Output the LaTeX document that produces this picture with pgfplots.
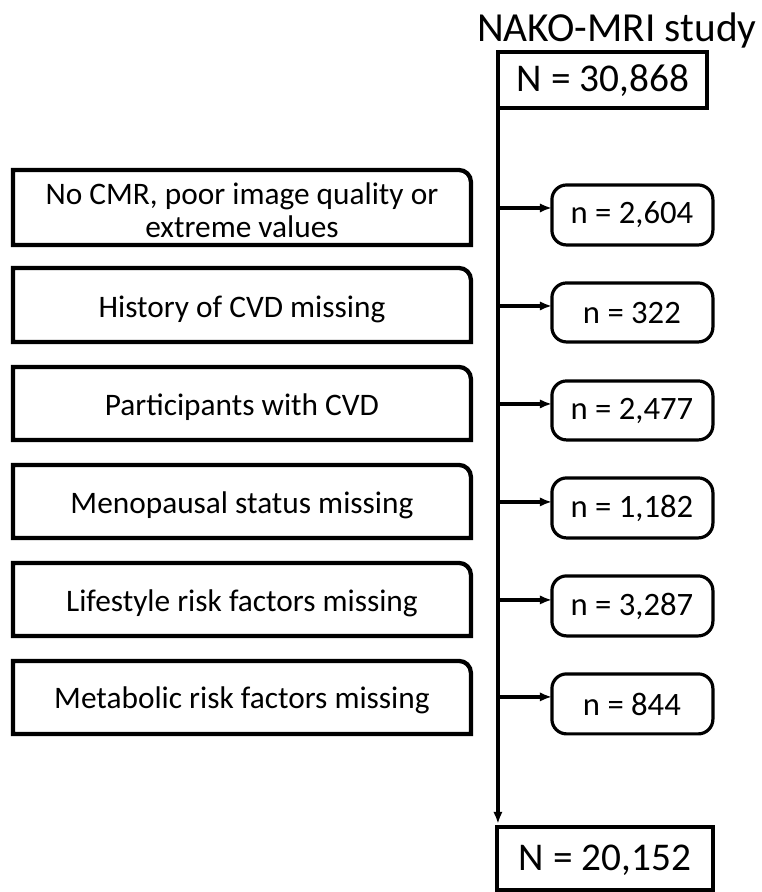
\documentclass[border=0pt]{standalone}
\usepackage{pgfplots}
\pgfplotsset{compat=1.18}
\usepackage{fontspec}
\setmainfont{Carlito}
\usetikzlibrary{arrows.meta}
\newcommand\leftbox[2]{\draw[line width=3.2pt,line join=miter] (13,#2) -- (13,#1) -- (459,#1) arc[start angle=90,end angle=0,radius=9pt] -- (471,#2) -- cycle;}
\newcommand\rightbox[2]{\draw[line width=2.4pt,rounded corners=11pt] (552,#1) rectangle (713,#2);}
\tikzset{arr/.style={line width=2.4pt,-{Latex[length=9pt,width=7pt]}}}
\begin{document}
\begin{tikzpicture}
\begin{axis}[
 width=570pt, height=669pt, scale only axis, hide axis,
 xmin=0, xmax=760, ymin=0, ymax=892, y dir=reverse, clip=false,
]
\addplot[draw=none] coordinates {(0,0) (760,892)};
% title and top box
\node[font=\fontsize{31}{36}\selectfont, anchor=center] at (617,30) {NAKO-MRI study};
\draw[line width=3.2pt] (498,52) rectangle (707,108);
\node[font=\fontsize{29.5}{34}\selectfont] at (603,81) {N = 30,868};
% main vertical line
\draw[arr] (498,106) -- (498,824);
% bottom box
\draw[line width=3.2pt] (497,827) rectangle (713,890);
\node[font=\fontsize{29.5}{34}\selectfont] at (605,860) {N = 20,152};
% exclusion boxes
\leftbox{170}{245}
\node[font=\fontsize{23.5}{25}\selectfont, align=center] at (242,210) {No CMR, poor image quality or\\extreme values};
\rightbox{185}{245}
\node[font=\fontsize{24.5}{28}\selectfont] at (632,215) {n = 2,604};
\draw[arr] (498,208) -- (552,208);
\leftbox{268}{342}
\node[font=\fontsize{23.5}{28}\selectfont] at (242,309) {History of CVD missing};
\rightbox{283}{342}
\node[font=\fontsize{24.5}{28}\selectfont] at (632,313) {n = 322};
\draw[arr] (498,306) -- (552,306);
\leftbox{367}{440}
\node[font=\fontsize{23.5}{28}\selectfont] at (242,407) {Participants with CVD};
\rightbox{381}{440}
\node[font=\fontsize{24.5}{28}\selectfont] at (632,411) {n = 2,477};
\draw[arr] (498,404) -- (552,404);
\leftbox{465}{538}
\node[font=\fontsize{23.5}{28}\selectfont] at (242,505) {Menopausal status missing};
\rightbox{478}{538}
\node[font=\fontsize{24.5}{28}\selectfont] at (632,509) {n = 1,182};
\draw[arr] (498,502) -- (552,502);
\leftbox{563}{636}
\node[font=\fontsize{23.5}{28}\selectfont] at (242,603) {Lifestyle risk factors missing};
\rightbox{576}{636}
\node[font=\fontsize{24.5}{28}\selectfont] at (632,607) {n = 3,287};
\draw[arr] (498,600) -- (552,600);
\leftbox{661}{734}
\node[font=\fontsize{23.5}{28}\selectfont] at (242,700) {Metabolic risk factors missing};
\rightbox{674}{734}
\node[font=\fontsize{24.5}{28}\selectfont] at (632,705) {n = 844};
\draw[arr] (498,697) -- (552,697);
\end{axis}
\end{tikzpicture}
\end{document}
